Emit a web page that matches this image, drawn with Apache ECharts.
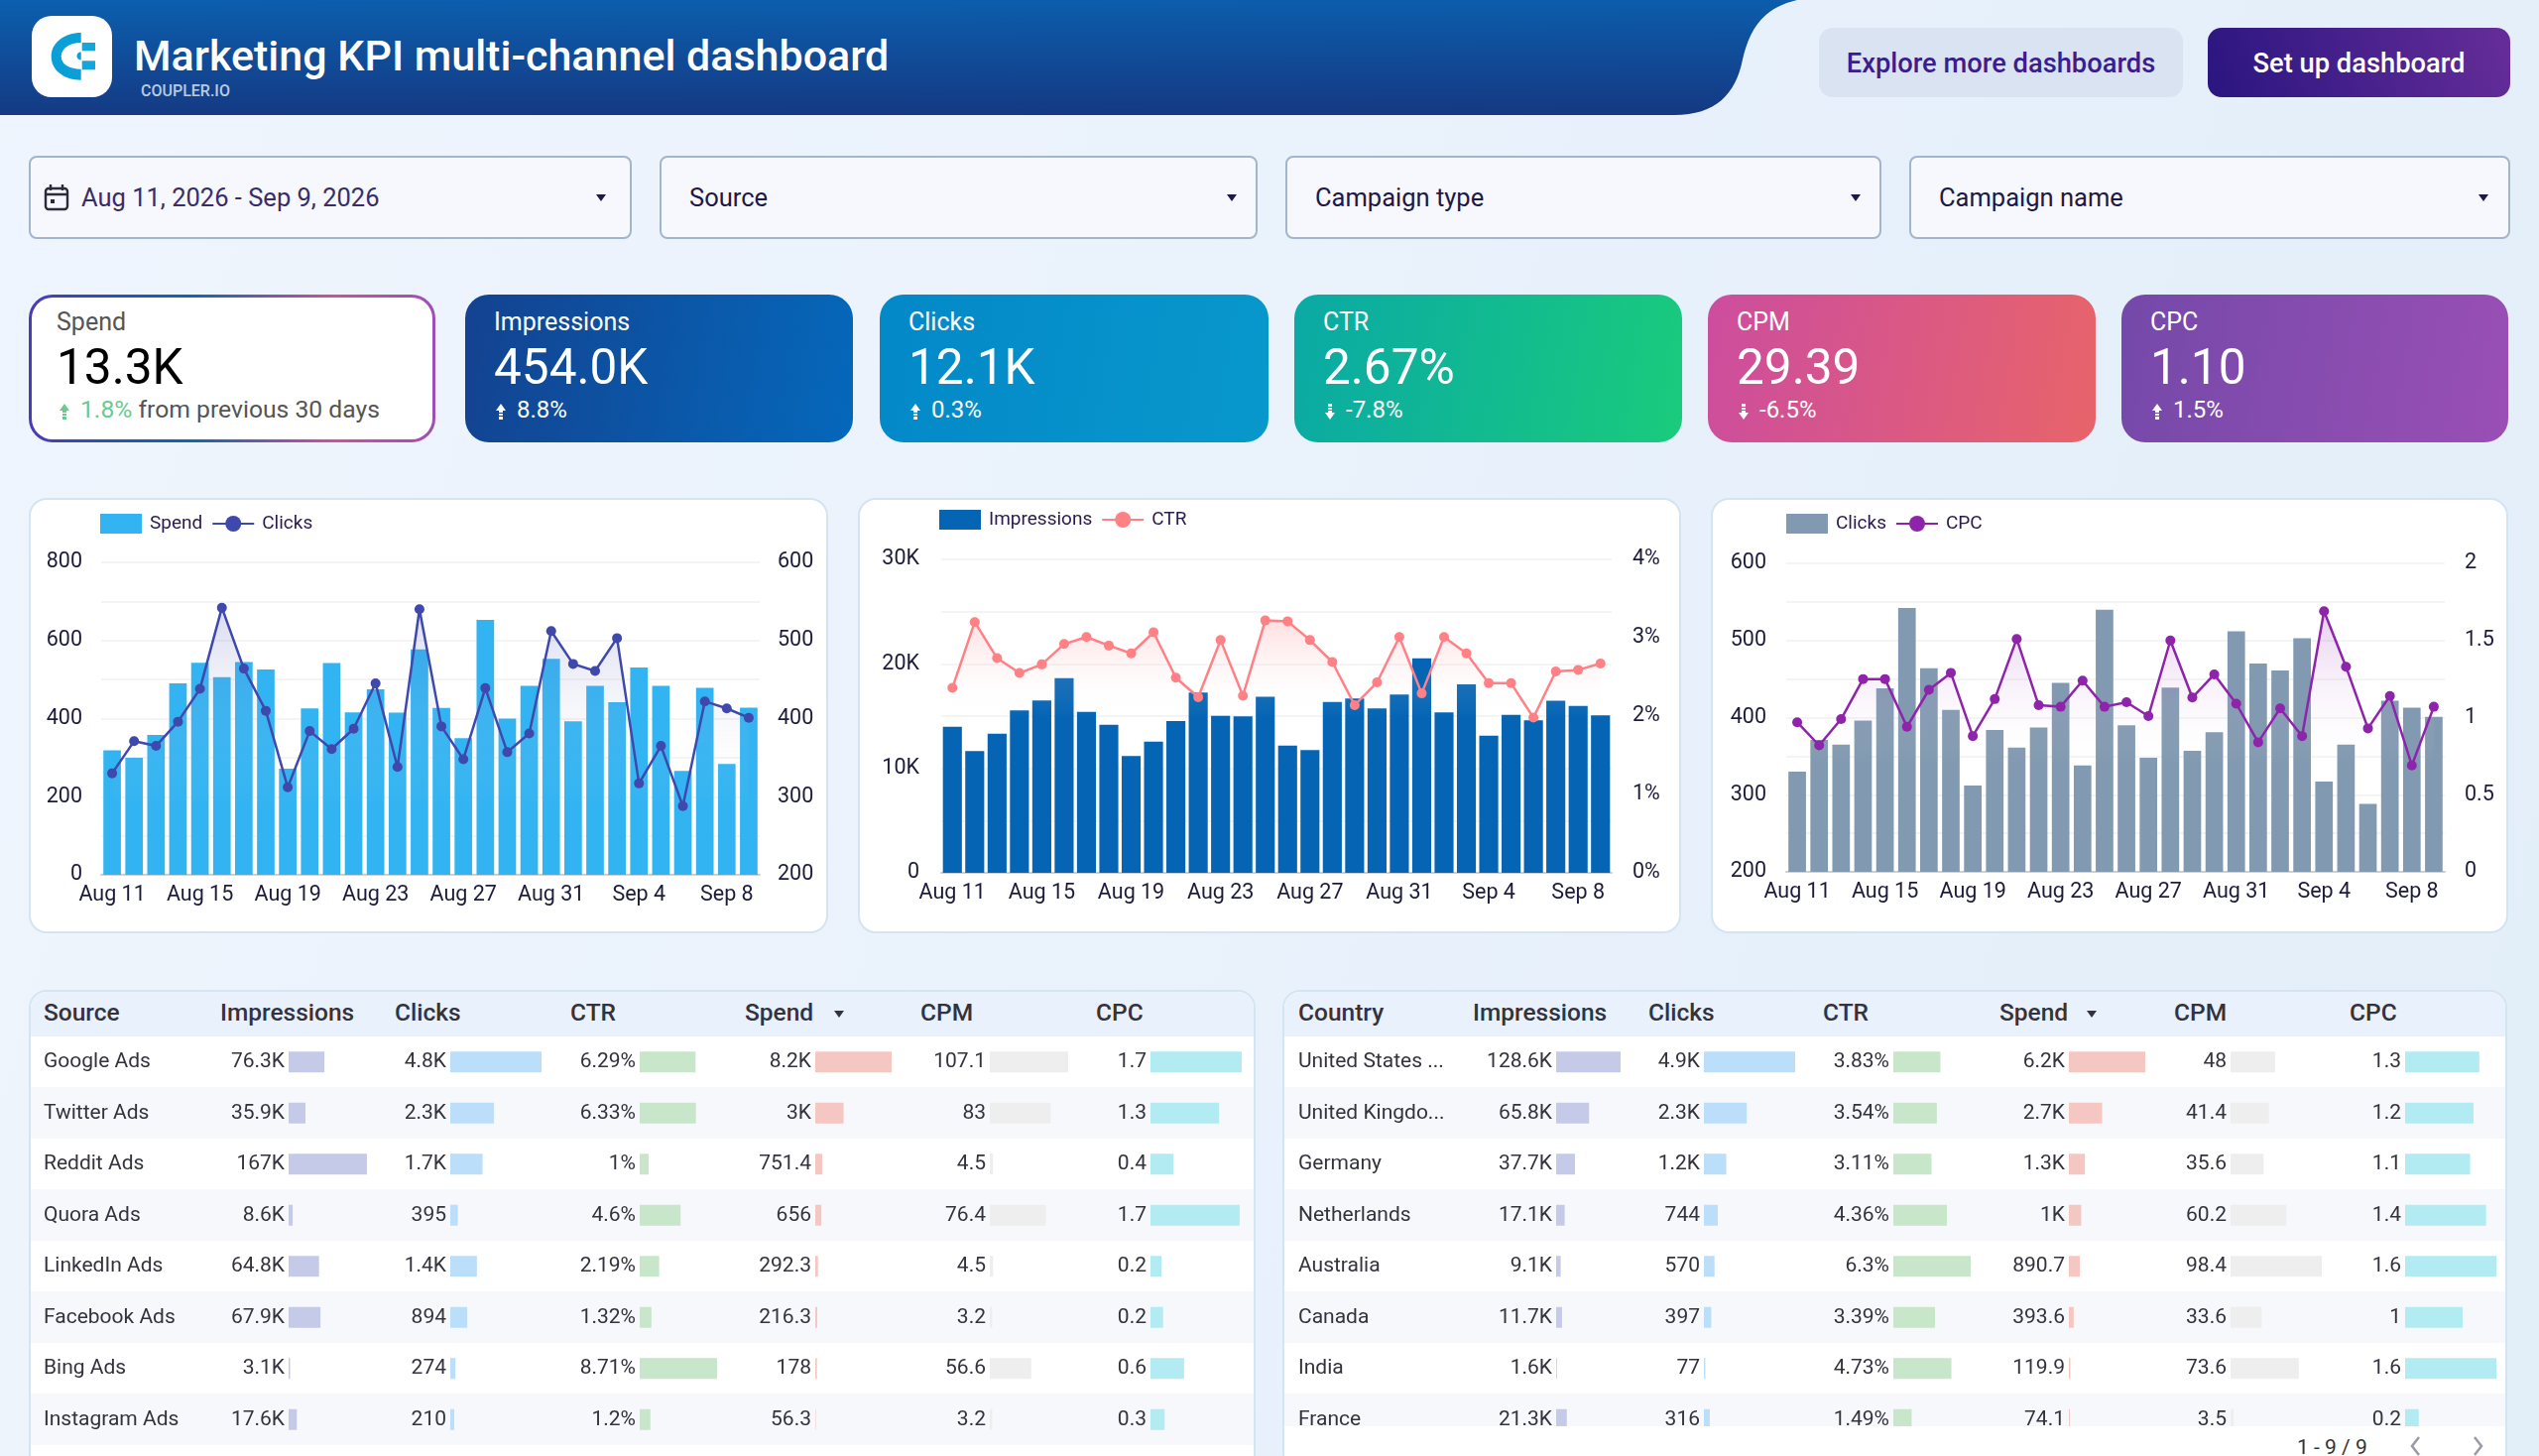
<!DOCTYPE html>
<html lang="en">
<head>
<meta charset="UTF-8">
<title>Marketing KPI multi-channel dashboard</title>
<script src="https://cdn.jsdelivr.net/npm/echarts@6/dist/echarts.min.js"></script>
<style>
html, body { margin: 0; padding: 0; }
body { width: 2560px; height: 1468px; overflow: hidden; position: relative; font-family: Roboto, sans-serif;
  background: linear-gradient(105deg, #eff5fd 0%, #eaf2fc 45%, #e2eef8 100%); }
.abs { position: absolute; }
.title { left: 135px; top: 30px; font-size: 43px; line-height: 52px; font-weight: 500; color: #fff; white-space: nowrap; }
.brand { left: 142px; top: 83px; font-size: 16px; line-height: 18px; font-weight: 500; color: #b9cbe2; }
.btn { top: 28px; height: 70px; line-height: 73px; border-radius: 14px; text-align: center; font-size: 27.3px; font-weight: 500; }
.filter { top: 157px; height: 80px; line-height: 80px; background: #f6f8fd; border: 2px solid #a3b5cd; border-radius: 8px; font-size: 25.5px; color: #1d1a45; box-sizing: content-box; }
.caret { position: absolute; top: 37px; width: 0; height: 0; border-left: 5px solid transparent; border-right: 5px solid transparent; border-top: 7px solid #1d1a45; }
.kpi { top: 297px; height: 149px; border-radius: 24px; color: #fff; box-sizing: border-box; }
.kpi div { position: absolute; left: 29px; white-space: nowrap; }
.kpi .l { top: 13px; font-size: 25px; line-height: 30px; }
.kpi .v { top: 43px; font-size: 49.5px; line-height: 60px; }
.kpi .s { top: 101px; font-size: 24px; line-height: 30px; left: 52px; }
.kpi svg { position: absolute; left: 30px; top: 109px; }
.card { background: #fff; border: 2px solid #d4e4f1; border-radius: 18px; box-sizing: border-box; }
.thead { top: 0; left: 0; right: 0; height: 45px; line-height: 42px; background: #e9f1fd; position: absolute; border-radius: 16px 16px 0 0; }
.thead span { position: absolute; font-size: 24.5px; font-weight: 500; color: #33333d; white-space: nowrap; }
.tri { position: absolute; top: 19px; width: 0; height: 0; border-left: 5px solid transparent; border-right: 5px solid transparent; border-top: 7px solid #33333d; }
.rows { position: absolute; left: 0; right: 0; top: 45px; height: 412px;
  background: repeating-linear-gradient(#fff 0, #fff 51.5px, #f7f8fb 51.5px, #f7f8fb 103px); }
.chart { position: absolute; }
</style>
</head>
<body>

<svg class="abs" style="left:0;top:0" width="1820" height="118">
  <defs><linearGradient id="hdr" x1="0" y1="0" x2="0.06" y2="1">
    <stop offset="0" stop-color="#0b5fae"/><stop offset="1" stop-color="#153a84"/></linearGradient></defs>
  <path d="M0,0 L1812,0 C1777,8 1764,30 1757,60 C1750,95 1730,116 1688,116 L0,116 Z" fill="url(#hdr)"/>
  <rect x="32" y="16" width="81" height="82" rx="20" fill="#fff"/>
  <path d="M81.7,33 C65,33 51.7,43 51.7,57 C51.7,71 65,80.7 81.7,80.7 L81.7,69.7 C70,69.7 61.7,65 61.7,57 C61.7,49 70,43 81.7,43 Z" fill="#0a9fd6"/>
  <path d="M81.7,52.3 A6,4.4 0 0 0 81.7,60.7 Z" fill="#0a9fd6"/>
  <rect x="82.7" y="43" width="13.3" height="8.3" fill="#12a8de"/>
  <rect x="82.7" y="61.3" width="13.3" height="9" fill="#12a8de"/>
</svg>
<div class="abs title">Marketing KPI multi-channel dashboard</div>
<div class="abs brand">COUPLER.IO</div>
<div class="abs btn" style="left:1834px;width:367px;background:#dae3f2;color:#3b1d8c">Explore more dashboards</div>
<div class="abs btn" style="left:2226px;width:305px;background:linear-gradient(70deg,#2a1580,#662d99);color:#fff">Set up dashboard</div>

<div class="abs filter" style="left:29px;width:604px;color:#3a2d66">
  <svg class="abs" style="left:13px;top:26px" width="26" height="28" viewBox="0 0 26 28" fill="none" stroke="#2b2b3a" stroke-width="2.4">
    <rect x="2" y="5" width="22" height="21" rx="3"/><path d="M2 11H24M7 1V7M19 1V7"/><rect x="7" y="16" width="4" height="4" fill="#2b2b3a" stroke="none"/></svg>
  <span class="abs" style="left:51px">Aug 11, 2026 - Sep 9, 2026</span><i class="caret" style="left:570px"></i></div>
<div class="abs filter" style="left:665px;width:599px"><span class="abs" style="left:28px">Source</span><i class="caret" style="left:570px"></i></div>
<div class="abs filter" style="left:1296px;width:597px"><span class="abs" style="left:28px">Campaign type</span><i class="caret" style="left:568px"></i></div>
<div class="abs filter" style="left:1925px;width:602px"><span class="abs" style="left:28px">Campaign name</span><i class="caret" style="left:572px"></i></div>

<div class="abs kpi" style="left:29px;width:410px;color:#000;border:3px solid transparent;background:linear-gradient(#fff,#fff) padding-box,linear-gradient(90deg,#4b3bb5,#0d66b5 40%,#d24f9a 75%,#9c4fb5) border-box">
  <div class="l" style="left:25px;top:10px;color:#555">Spend</div><div class="v" style="left:25px;top:40px">13.3K</div>
  <svg style="left:27px;top:106px" width="12" height="18" viewBox="0 0 12 18" fill="#6cc990"><path d="M6 1L11 8H8V10H4V8H1ZM4 11H8V13H4ZM4 14H8V17H4Z"/></svg>
  <div class="s" style="left:49px;top:98px;font-size:24.7px;color:#555"><span style="color:#6cc990">1.8%</span> from previous 30 days</div></div>
<div class="abs kpi" style="left:469px;width:391px;background:linear-gradient(100deg,#134290,#0568bb)">
  <div class="l">Impressions</div><div class="v">454.0K</div>
  <svg width="12" height="18" viewBox="0 0 12 18" fill="#fff"><path d="M6 1L11 8H8V10H4V8H1ZM4 11H8V13H4ZM4 14H8V17H4Z"/></svg><div class="s">8.8%</div></div>
<div class="abs kpi" style="left:887px;width:392px;background:linear-gradient(100deg,#0388c8,#0898cc)">
  <div class="l">Clicks</div><div class="v">12.1K</div>
  <svg width="12" height="18" viewBox="0 0 12 18" fill="#fff"><path d="M6 1L11 8H8V10H4V8H1ZM4 11H8V13H4ZM4 14H8V17H4Z"/></svg><div class="s">0.3%</div></div>
<div class="abs kpi" style="left:1305px;width:391px;background:linear-gradient(100deg,#0aa9a5,#1acb7c)">
  <div class="l">CTR</div><div class="v">2.67%</div>
  <svg width="12" height="18" viewBox="0 0 12 18" fill="#fff"><path d="M6 17L11 10H8V8H4V10H1ZM4 7H8V5H4ZM4 4H8V1H4Z"/></svg><div class="s">-7.8%</div></div>
<div class="abs kpi" style="left:1722px;width:391px;background:linear-gradient(100deg,#cc4d9e,#e8646a)">
  <div class="l">CPM</div><div class="v">29.39</div>
  <svg width="12" height="18" viewBox="0 0 12 18" fill="#fff"><path d="M6 17L11 10H8V8H4V10H1ZM4 7H8V5H4ZM4 4H8V1H4Z"/></svg><div class="s">-6.5%</div></div>
<div class="abs kpi" style="left:2139px;width:390px;background:linear-gradient(100deg,#7449a9,#9a4fb5)">
  <div class="l">CPC</div><div class="v">1.10</div>
  <svg width="12" height="18" viewBox="0 0 12 18" fill="#fff"><path d="M6 1L11 8H8V10H4V8H1ZM4 11H8V13H4ZM4 14H8V17H4Z"/></svg><div class="s">1.5%</div></div>

<div class="abs card chart" id="c1" style="left:29px;top:502px;width:806px;height:439px"></div>
<div class="abs card chart" id="c2" style="left:865px;top:502px;width:830px;height:439px"></div>
<div class="abs card chart" id="c3" style="left:1725px;top:502px;width:804px;height:439px"></div>

<div class="abs card" style="left:29px;top:998px;width:1237px;height:490px;overflow:hidden">
  <div class="thead" id="h1"></div><div class="rows"></div>
  <div class="chart" id="t1" style="left:-1px;top:45px;width:1235px;height:423px"></div>
</div>
<div class="abs card" style="left:1293px;top:998px;width:1235px;height:490px;overflow:hidden">
  <div class="thead" id="h2"></div><div class="rows"></div>
  <div class="chart" id="t2" style="left:-1px;top:45px;width:1233px;height:423px"></div>
  <div class="abs" style="left:0;right:0;top:438px;height:60px;background:#fff"></div>
  <span class="abs" style="left:1021px;top:447px;font-size:21px;line-height:24px;color:#333;white-space:nowrap">1 - 9 / 9</span>
  <svg class="abs" style="left:1133px;top:447px" width="80" height="22" fill="none" stroke="#9a9aa8" stroke-width="2.5"><path d="M11 2L4 11L11 20M67 2L74 11L67 20"/></svg>
</div>

<script type="text/javascript">
var days = ['Aug 11','Aug 12','Aug 13','Aug 14','Aug 15','Aug 16','Aug 17','Aug 18','Aug 19','Aug 20','Aug 21','Aug 22','Aug 23','Aug 24','Aug 25','Aug 26','Aug 27','Aug 28','Aug 29','Aug 30','Aug 31','Sep 1','Sep 2','Sep 3','Sep 4','Sep 5','Sep 6','Sep 7','Sep 8','Sep 9'];
var spend = [319,300,358,490,543,506,545,526,272,426,542,416,475,415,577,427,350,653,400,484,553,393,484,442,531,484,266,479,284,428];
var clicks = [330,371,365,396,438,542,464,410,312,384,361,387,445,338,540,390,348,439,357,381,512,470,461,503,317,365,288,422,413,401];
var impressions = [13990,11650,13320,15540,16490,18640,15410,14180,11170,12560,14530,17250,15030,14970,16840,12180,11740,16360,16680,15730,17060,20540,15350,18040,13130,15130,14590,16460,15980,15060];
var ctr = [2.36,3.20,2.74,2.55,2.66,2.92,3.01,2.90,2.80,3.07,2.49,2.24,2.97,2.26,3.22,3.21,2.97,2.69,2.14,2.43,3.01,2.29,3.01,2.80,2.42,2.42,1.98,2.57,2.59,2.67];
var cpc = [0.97,0.82,0.99,1.25,1.25,0.94,1.18,1.29,0.88,1.12,1.51,1.08,1.07,1.24,1.07,1.10,1.01,1.50,1.13,1.28,1.09,0.84,1.06,0.88,1.69,1.33,0.93,1.14,0.69,1.07];

var sourceNames = ['Google Ads','Twitter Ads','Reddit Ads','Quora Ads','LinkedIn Ads','Facebook Ads','Bing Ads','Instagram Ads'];
var sourceImpressions = [76300,35900,167000,8600,64800,67900,3100,17600];
var sourceClicks = [4800,2300,1700,395,1400,894,274,210];
var sourceCtr = [6.29,6.33,1,4.6,2.19,1.32,8.71,1.2];
var sourceSpend = [8200,3040,751.4,656,292.3,216.3,178,56.3];
var sourceCpm = [107.1,83,4.5,76.4,4.5,3.2,56.6,3.2];
var sourceCpc = [1.74,1.31,0.44,1.7,0.21,0.24,0.64,0.27];

var countryNames = ['United States ...','United Kingdo...','Germany','Netherlands','Australia','Canada','India','France'];
var countryImpressions = [128600,65800,37700,17100,9100,11700,1600,21300];
var countryClicks = [4900,2300,1200,744,570,397,77,316];
var countryCtr = [3.83,3.54,3.11,4.36,6.3,3.39,4.73,1.49];
var countrySpend = [6200,2700,1300,1000,890.7,393.6,119.9,74.1];
var countryCpm = [48,41.4,35.6,60.2,98.4,33.6,73.6,3.5];
var countryCpc = [1.3,1.2,1.14,1.42,1.6,1.01,1.6,0.24];

var tableColumns = ['Impressions','Clicks','CTR','Spend','CPM','CPC'];

var tickColor = '#1c1c3a';
var tickFont = 21.5;

// combo chart: bars on the left axis, line with fading area on the right axis
function combo(id, o) {
    var chart = echarts.init(document.getElementById(id));
    var baseline = Math.min.apply(null, o.line);
    chart.setOption({
        animation: false,
        textStyle: { fontFamily: 'Roboto' },
        legend: {
            left: o.legendLeft, top: o.legendTop, itemWidth: 42, itemHeight: 20, itemGap: 9,
            textStyle: { fontSize: 19, color: '#2a1a50', padding: [0, 0, 0, 3] },
            data: [{ name: o.barName, icon: 'rect' }, { name: o.lineName }]
        },
        grid: { left: o.left, right: o.right, top: o.top, height: o.height },
        xAxis: {
            type: 'category', data: days,
            axisTick: { show: false },
            axisLine: { lineStyle: { color: '#cfcfcf', width: 2 } },
            axisLabel: { interval: 3, color: tickColor, fontSize: tickFont, margin: 10 }
        },
        yAxis: [{
            type: 'value', min: o.barMin, max: o.barMax, interval: o.barStep,
            axisLine: { show: false }, axisTick: { show: false },
            axisLabel: { color: tickColor, fontSize: tickFont, margin: o.marginL, formatter: o.barFormat },
            splitLine: { lineStyle: { color: '#f4f4f4', width: 2 } },
            minorTick: { show: false, splitNumber: 2 },
            minorSplitLine: { show: true, lineStyle: { color: '#f4f4f4', width: 2 } }
        }, {
            type: 'value', min: o.lineMin, max: o.lineMax, interval: o.lineStep,
            axisLine: { show: false }, axisTick: { show: false }, splitLine: { show: false },
            axisLabel: { color: tickColor, fontSize: tickFont, margin: o.marginR, formatter: o.lineFormat }
        }],
        series: [{
            name: o.barName, type: 'bar', data: o.bars, barWidth: o.barWidth,
            itemStyle: { color: o.barColor }
        }, {
            name: o.lineName, type: 'line', yAxisIndex: 1, data: o.line,
            symbol: 'circle', symbolSize: 10, z: 5,
            lineStyle: { color: o.lineColor, width: 2.5 },
            itemStyle: { color: o.lineColor },
            areaStyle: {
                origin: baseline,
                color: new echarts.graphic.LinearGradient(0, 0, 0, 1, [
                    { offset: 0, color: o.areaColor },
                    { offset: 1, color: 'rgba(255,255,255,0)' }
                ])
            }
        }]
    });
}

combo('c1', {
    barName: 'Spend', lineName: 'Clicks', bars: spend, line: clicks, barWidth: '80%',
    barColor: '#33b4f2', lineColor: '#3f48ad', areaColor: 'rgba(63,72,173,0.28)',
    legendLeft: 65, legendTop: 9,
    left: 71, right: 67, top: 63, height: 315, marginL: 19, marginR: 18,
    barMin: 0, barMax: 800, barStep: 200, lineMin: 200, lineMax: 600, lineStep: 100
});
combo('c2', {
    barName: 'Impressions', lineName: 'CTR', bars: impressions, line: ctr, barWidth: '85%',
    barColor: '#0565b4', lineColor: '#ff8085', areaColor: 'rgba(255,128,133,0.36)',
    legendLeft: 75, legendTop: 5,
    left: 82, right: 68, top: 60, height: 316, marginL: 22, marginR: 21,
    barMin: 0, barMax: 30000, barStep: 10000, lineMin: 0, lineMax: 4, lineStep: 1,
    barFormat: function (v) { return v ? v / 1000 + 'K' : '0'; },
    lineFormat: '{value}%'
});
combo('c3', {
    barName: 'Clicks', lineName: 'CPC', bars: clicks, line: cpc, barWidth: '80%',
    barColor: '#829ab1', lineColor: '#8e24aa', areaColor: 'rgba(142,36,170,0.32)',
    legendLeft: 69, legendTop: 9,
    left: 74, right: 62, top: 64, height: 311, marginL: 20, marginR: 20,
    barMin: 200, barMax: 600, barStep: 100, lineMin: 0, lineMax: 2, lineStep: 0.5
});

function shortNumber(v) {
    if (v >= 1000) return parseFloat((v / 1000).toFixed(1)) + 'K';
    return String(parseFloat(v.toFixed(1)));
}
function percent(v) {
    return parseFloat(v.toFixed(2)) + '%';
}

// one small horizontal bar grid per column, the row names hang off the first grid's y axis
function table(id, names, cols, o) {
    var chart = echarts.init(document.getElementById(id));
    var grid = [], xAxis = [], yAxis = [], series = [];
    for (var i = 0; i < cols.length; i++) {
        grid.push({ left: o.starts[i], width: o.widths[i], top: 0, height: 412 });
        xAxis.push({ gridIndex: i, type: 'value', min: 0, max: o.maxes[i], show: false });
        yAxis.push({
            gridIndex: i, type: 'category', inverse: true, data: names,
            axisLine: { show: false }, axisTick: { show: false },
            axisLabel: i == 0 ? { show: true, align: 'left', margin: o.starts[0] - o.nameX, fontSize: 21, color: '#33333d', hideOverlap: false, interval: 0 } : { show: false }
        });
        series.push({
            type: 'bar', xAxisIndex: i, yAxisIndex: i, data: cols[i], barWidth: 21, silent: true,
            itemStyle: { color: o.colors[i] },
            label: { show: true, position: 'left', distance: 4, fontSize: 21, color: '#33333d', formatter: i == 2 ? function (p) { return percent(p.value); } : function (p) { return shortNumber(p.value); } }
        });
    }
    chart.setOption({ animation: false, textStyle: { fontFamily: 'Roboto' }, grid: grid, xAxis: xAxis, yAxis: yAxis, series: series });
}

var barColors = ['#c5cae9','#bbdefb','#c8e6c9','#f4c7c3','#eeeeee','#b2ebf2'];

table('t1', sourceNames, [sourceImpressions, sourceClicks, sourceCtr, sourceSpend, sourceCpm, sourceCpc], {
    nameX: 14, colors: barColors,
    starts: [261, 424, 615, 792, 968, 1130],
    widths: [79, 92, 78, 77, 79, 92],
    maxes: [167000, 4800, 8.71, 8200, 107.1, 1.74]
});
table('t2', countryNames, [countryImpressions, countryClicks, countryCtr, countrySpend, countryCpm, countryCpc], {
    nameX: 15, colors: barColors,
    starts: [275, 424, 615, 792, 955, 1131],
    widths: [65, 92, 78, 77, 92, 92],
    maxes: [128600, 4900, 6.3, 6200, 98.4, 1.6]
});

// header rows
function header(id, first, xs, triX) {
    var labels = [first].concat(tableColumns), el = document.getElementById(id), html = '';
    for (var i = 0; i < labels.length; i++) {
        html += '<span style="left:' + xs[i] + 'px">' + labels[i] + '</span>';
    }
    el.innerHTML = html + '<i class="tri" style="left:' + triX + 'px"></i>';
}
header('h1', 'Source', [13, 191, 367, 544, 720, 897, 1074], 810);
header('h2', 'Country', [14, 190, 367, 543, 721, 897, 1074], 809);
</script>
</body>
</html>
